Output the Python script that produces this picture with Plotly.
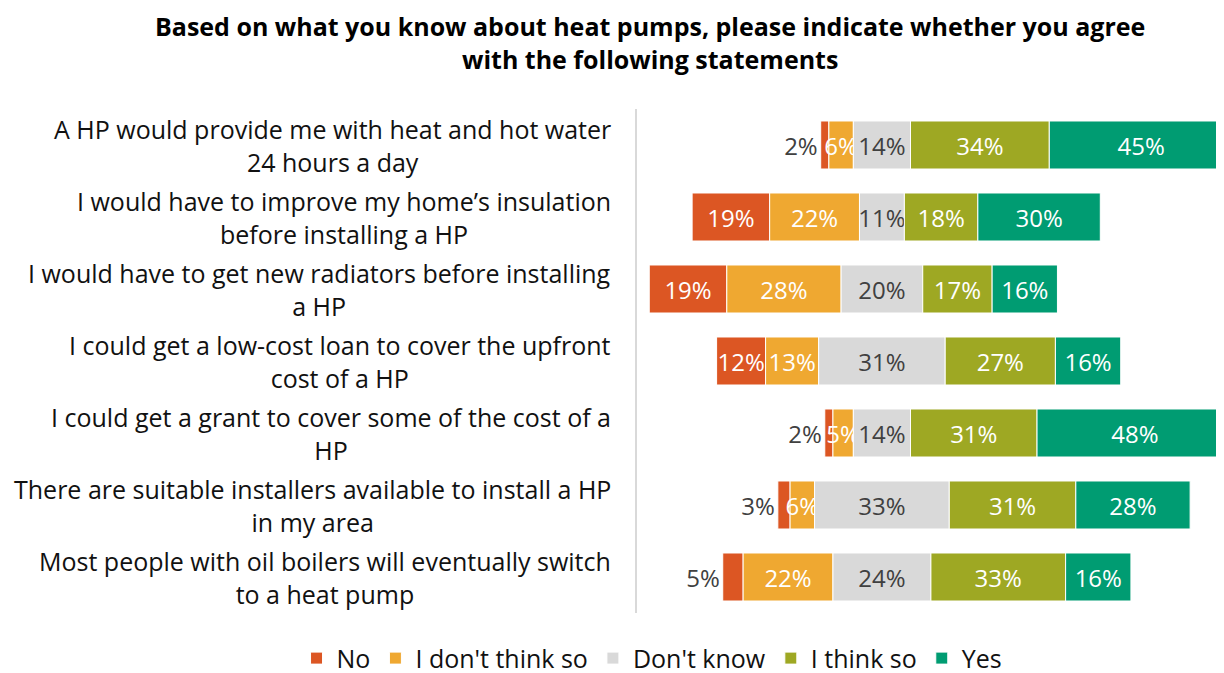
import plotly.graph_objects as go

statements = [
    "A HP would provide me with heat and hot water<br>24 hours a day",
    "I would have to improve my home’s insulation<br>before installing a HP",
    "I would have to get new radiators before installing<br>a HP",
    "I could get a low-cost loan to cover the upfront<br>cost of a HP",
    "I could get a grant to cover some of the cost of a<br>HP",
    "There are suitable installers available to install a HP<br>in my area",
    "Most people with oil boilers will eventually switch<br>to a heat pump",
]
no = [2, 19, 19, 12, 2, 3, 5]
dont_think = [6, 22, 28, 13, 5, 6, 22]
dont_know = [14, 11, 20, 31, 14, 33, 24]
think_so = [34, 18, 17, 27, 31, 31, 33]
yes = [45, 30, 16, 16, 48, 28, 16]
no_label_pos = ["outside", "inside", "inside", "inside", "outside", "outside", "outside"]

colors = {
    "No": "#DC5623",
    "I don't think so": "#EFA831",
    "Don't know": "#D9D9D9",
    "I think so": "#9EA823",
    "Yes": "#009C72",
}

ids = list(range(len(statements)))
start = [-(a + b + c / 2) for a, b, c in zip(no, dont_think, dont_know)]

fig = go.Figure()
font_family = "Open Sans"
lbl_size = 24

# "No" drawn leftwards from its right edge so outside labels sit to the left
fig.add_trace(go.Bar(
    name="No", y=ids, x=[-v for v in no], base=[s + v for s, v in zip(start, no)],
    orientation="h", marker=dict(color=colors["No"], line=dict(color="white", width=1)),
    text=[f"{v}%" for v in no], textposition=no_label_pos, textangle=0,
    insidetextfont=dict(color="white", size=lbl_size, family=font_family),
    outsidetextfont=dict(color="#404040", size=lbl_size, family=font_family),
    insidetextanchor="middle", constraintext="none",
    hoverinfo="skip",
))

cum = [s + v for s, v in zip(start, no)]
for name, vals, tcol in [
    ("I don't think so", dont_think, "white"),
    ("Don't know", dont_know, "#404040"),
    ("I think so", think_so, "white"),
    ("Yes", yes, "white"),
]:
    fig.add_trace(go.Bar(
        name=name, y=ids, x=vals, base=cum[:], orientation="h",
        marker=dict(color=colors[name], line=dict(color="white", width=1)),
        text=[f"{v}%" for v in vals], textposition="inside", textangle=0,
        insidetextfont=dict(color=tcol, size=lbl_size, family=font_family),
        insidetextanchor="middle", constraintext="none",
        hoverinfo="skip",
    ))
    cum = [c + v for c, v in zip(cum, vals)]

for i, s in enumerate(statements):
    fig.add_annotation(
        x=-0.041, xref="paper", y=i, yref="y", text=s, showarrow=False,
        xanchor="right", yanchor="middle", align="center",
        font=dict(size=25, color="#111111", family=font_family),
    )

fig.add_annotation(
    text="<b>Based on what you know about heat pumps, please indicate whether you agree<br>with the following statements</b>",
    x=0.022, xref="paper", xanchor="center",
    y=1.131, yref="paper", yanchor="middle",
    showarrow=False, align="center",
    font=dict(size=25, color="#000000", family=font_family),
)

fig.update_layout(
    width=1216, height=665,
    barmode="overlay", bargap=0.333,
    paper_bgcolor="white", plot_bgcolor="white",
    margin=dict(l=629, r=0, t=101, b=60, autoexpand=False),
    font=dict(family=font_family, color="#111111"),
    xaxis=dict(range=[-60, 83.8], showgrid=False, zeroline=False, showticklabels=False,
               showline=False, fixedrange=True),
    yaxis=dict(range=[6.5, -0.5], showgrid=False, zeroline=False, showticklabels=False,
               showline=True, linecolor="#D9D9D9", linewidth=2, ticks=""),
    legend=dict(
        orientation="h", xref="paper", x=-0.58, xanchor="left",
        yref="paper", y=-0.09, yanchor="middle",
        font=dict(size=25, color="#111111", family=font_family),
        traceorder="normal", itemclick=False,
    ),
    showlegend=True,
)

fig.write_html("out.html")
